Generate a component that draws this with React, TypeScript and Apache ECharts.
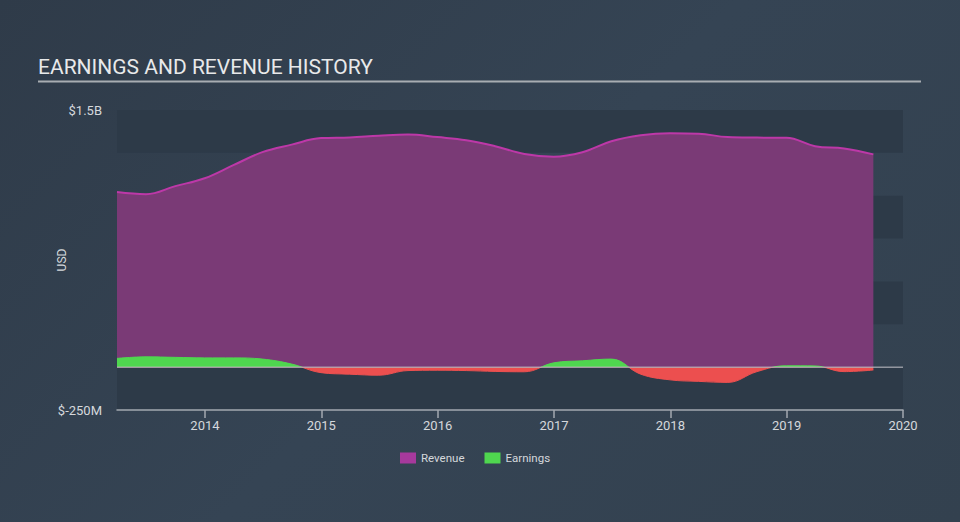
import React, { useEffect, useRef } from "react";
import * as echarts from "echarts";

const dates = [
  "2013-03-31", "2013-06-30", "2013-09-30", "2013-12-31",
  "2014-03-31", "2014-06-30", "2014-09-30", "2014-12-31",
  "2015-03-31", "2015-06-30", "2015-09-30", "2015-12-31",
  "2016-03-31", "2016-06-30", "2016-09-30", "2016-12-31",
  "2017-03-31", "2017-06-30", "2017-09-30", "2017-12-31",
  "2018-03-31", "2018-06-30", "2018-09-30", "2018-12-31",
  "2019-03-31", "2019-06-30", "2019-09-30",
];

// values in billions USD
const revenue = [
  1.021, 1.009, 1.056, 1.102, 1.178, 1.254, 1.298, 1.336, 1.34, 1.35, 1.357,
  1.342, 1.324, 1.289, 1.243, 1.228, 1.254, 1.318, 1.353, 1.365, 1.362, 1.342,
  1.339, 1.338, 1.289, 1.275, 1.241,
];

const earnings = [
  0.051, 0.06, 0.057, 0.054, 0.054, 0.047, 0.018, -0.032, -0.041, -0.047,
  -0.02, -0.018, -0.02, -0.025, -0.027, 0.025, 0.037, 0.047, -0.041, -0.074,
  -0.083, -0.089, -0.026, 0.008, 0.007, -0.026, -0.017,
];

const axisEnd = "2020-01-01";
const yMin = -0.25;
const yMax = 1.5;

const title = "EARNINGS AND REVENUE HISTORY";
const yAxisName = "USD";
const yMinLabel = "$-250M";
const yMaxLabel = "$1.5B";

const GREEN = "#4fd64f";
const RED = "#ec4f4f";

// date string -> fractional year
const fy = (d: string) => {
  const [y, m, dd] = d.split("-").map(Number);
  const start = Date.UTC(y, 0, 1);
  const end = Date.UTC(y + 1, 0, 1);
  return y + (Date.UTC(y, m - 1, dd) - start) / (end - start);
};

export default function App() {
  const ref = useRef<HTMLDivElement>(null);

  useEffect(() => {
    if (!ref.current) return;
    const chart = echarts.init(ref.current, null, { renderer: "svg" });
    const labelColor = "#d5d8dc";
    const font = "Roboto";
    const underline = {
      type: "line",
      shape: { x1: 38, y1: 81.5, x2: 921, y2: 81.5 },
      style: { stroke: "#a8adb2", lineWidth: 2 },
    };
    const usdLabel = {
      type: "text",
      x: 62,
      y: 260,
      rotation: Math.PI / 2,
      style: {
        text: yAxisName,
        fill: labelColor,
        fontSize: 12,
        fontFamily: font,
        align: "center",
        verticalAlign: "middle",
      },
    };

    chart.setOption({
      animation: false,
      backgroundColor: "transparent",
      textStyle: { fontFamily: font },
      title: {
        text: title,
        left: 38,
        top: 56,
        padding: 0,
        textStyle: {
          color: "#e8e9ea",
          fontSize: 21,
          fontWeight: "normal",
          fontFamily: font,
        },
      },
      graphic: [underline, usdLabel],
      legend: {
        left: 400,
        top: 452,
        padding: 0,
        icon: "rect",
        itemWidth: 16,
        itemHeight: 11,
        itemGap: 20,
        textStyle: { color: labelColor, fontSize: 11.5, fontFamily: font },
        data: [
          { name: "Revenue", itemStyle: { color: "#a6399c" } },
          { name: "Earnings", itemStyle: { color: GREEN } },
        ],
      },
      grid: { left: 117, right: 57, top: 110, bottom: 112 },
      xAxis: {
        type: "value",
        min: fy(dates[0]),
        max: fy(axisEnd),
        splitNumber: 7,
        axisLine: { show: true, onZero: false, lineStyle: { color: "#a3a9b0", width: 1.5 } },
        axisTick: {
          show: true,
          length: 8,
          lineStyle: { color: "#a3a9b0", width: 1.5 },
        },
        axisLabel: {
          showMinLabel: false,
          color: labelColor,
          fontSize: 13,
          margin: 9,
          formatter: (v: number) =>
            Math.abs(v - Math.round(v)) < 1e-6 ? String(Math.round(v)) : "",
        },
        splitLine: { show: false },
      },
      yAxis: {
        type: "value",
        min: yMin,
        max: yMax,
        interval: 0.25,
        axisLine: { show: false },
        axisTick: { show: false },
        axisLabel: {
          color: labelColor,
          fontSize: 13,
          margin: 15,
          formatter: (v: number) => {
            if (Math.abs(v - yMax) < 1e-6) return yMaxLabel;
            if (Math.abs(v - yMin) < 1e-6) return yMinLabel;
            return "";
          },
        },
        splitLine: { show: false },
        splitArea: {
          show: true,
          areaStyle: { color: ["#2d3a48", "rgba(0,0,0,0)"] },
        },
      },
      series: [
        {
          name: "Revenue",
          type: "line",
          smooth: 0.4,
          symbol: "none",
          data: dates.map((d, i) => [fy(d), revenue[i]]),
          lineStyle: { color: "#bd38a8", width: 2 },
          itemStyle: { color: "#a6399c" },
          areaStyle: { color: "#7a3a76", opacity: 1 },
          z: 2,
        },
        {
          name: "Earnings",
          type: "line",
          smooth: 0.4,
          symbol: "none",
          data: dates.map((d, i) => [fy(d), earnings[i]]),
          lineStyle: { width: 1, color: GREEN },
          itemStyle: { color: GREEN },
          areaStyle: { opacity: 1, color: GREEN },
          z: 3,
        },
      ],
    });

    // split earnings colour at the zero line, using the axis' own scale
    const yTop = chart.convertToPixel({ yAxisIndex: 0 }, yMax) as number;
    const yBot = chart.convertToPixel({ yAxisIndex: 0 }, yMin) as number;
    const yZero = chart.convertToPixel({ yAxisIndex: 0 }, 0) as number;
    const xLeft = chart.convertToPixel({ xAxisIndex: 0 }, fy(dates[0])) as number;
    const xRight = chart.convertToPixel({ xAxisIndex: 0 }, fy(axisEnd)) as number;
    if (isFinite(yTop) && isFinite(yBot) && isFinite(yZero)) {
      const off = (yZero - yTop) / (yBot - yTop);
      const grad = new echarts.graphic.LinearGradient(
        0, yTop, 0, yBot,
        [
          { offset: 0, color: GREEN },
          { offset: off, color: GREEN },
          { offset: off, color: RED },
          { offset: 1, color: RED },
        ],
        true
      );
      chart.setOption({
        series: [
          {},
          {
            lineStyle: { color: grad },
            areaStyle: { color: grad },
          },
        ],
        graphic: [
          underline,
          usdLabel,
          {
            type: "line",
            z: 10,
            silent: true,
            shape: { x1: xLeft, y1: yZero, x2: xRight, y2: yZero },
            style: { stroke: "rgba(190,190,195,0.7)", lineWidth: 1.5 },
          },
        ],
      });
    }

    return () => chart.dispose();
  }, []);

  return (
    <div
      ref={ref}
      style={{
        position: "fixed",
        left: 0,
        top: 0,
        width: 960,
        height: 522,
        background: "linear-gradient(135deg, #2f3b49 0%, #354454 50%, #33414f 100%)",
      }}
    />
  );
}
